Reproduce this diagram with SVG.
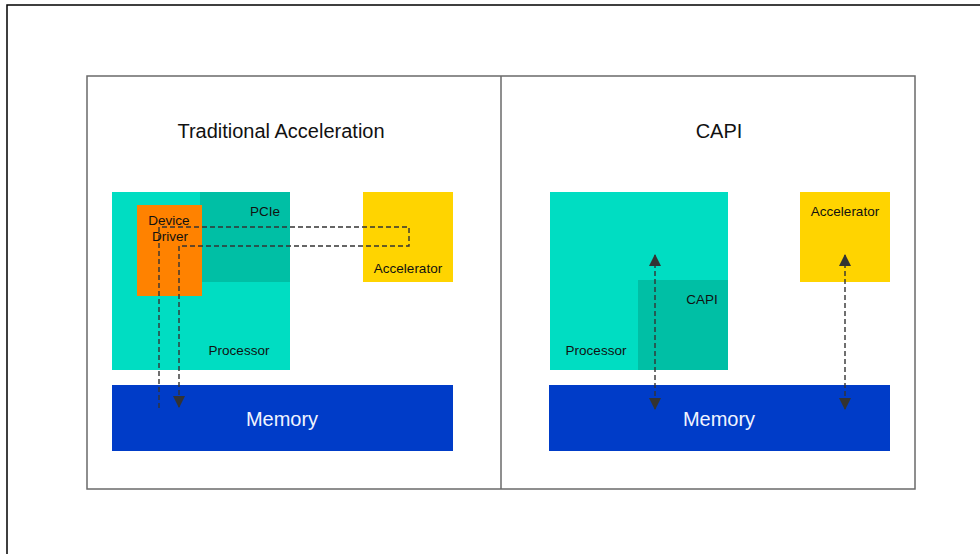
<svg xmlns="http://www.w3.org/2000/svg" width="980" height="554" viewBox="0 0 980 554">
<style>
text{font-family:"Liberation Sans",Arial,sans-serif;fill:#111}
.t{font-size:20px;text-anchor:middle}
.s{font-size:13.5px;text-anchor:middle}
.m{font-size:20px;text-anchor:middle;fill:#F0F4FF}
.proc{fill:#00DDC2}
.dark{fill:#00BFA5}
.acc{fill:#FFD400}
.mem{fill:#003CC8}
.dash{fill:none;stroke:#333;stroke-width:1.4;stroke-dasharray:5 3}
</style>
<defs>
<marker id="ah" viewBox="0 0 12 12" refX="11" refY="6" markerWidth="12" markerHeight="12" markerUnits="userSpaceOnUse" orient="auto-start-reverse">
<path d="M0,0 L12,6 L0,12 z" fill="#333"/>
</marker>
</defs>
<rect x="7" y="5" width="1000" height="600" fill="none" stroke="#000" stroke-width="1.5"/>
<g id="panels">
<rect x="87" y="76" width="828" height="413" fill="none" stroke="#6a6a6a" stroke-width="1.5"/>
<line x1="501" y1="76" x2="501" y2="489" stroke="#6a6a6a" stroke-width="1.5"/>
</g>
<text class="t" x="281" y="138">Traditional Acceleration</text>
<text class="t" x="719" y="138">CAPI</text>
<g id="left-processor">
<rect class="proc" x="112" y="192" width="178" height="178"/>
<text class="s" x="239" y="354.5">Processor</text>
</g>
<g id="pcie">
<rect class="dark" x="200" y="192" width="90" height="90"/>
<text class="s" x="265" y="215.5">PCIe</text>
</g>
<g id="device-driver">
<rect x="137" y="205" width="65" height="91" fill="#FF8200"/>
</g>
<g id="left-accelerator">
<rect class="acc" x="363" y="192" width="90" height="90"/>
<text class="s" x="408" y="273">Accelerator</text>
</g>
<g id="left-memory">
<rect class="mem" x="112" y="385" width="341" height="66"/>
<text class="m" x="282" y="426">Memory</text>
</g>
<g id="right-processor">
<rect class="proc" x="550" y="192" width="178" height="178"/>
<text class="s" x="596" y="354.5">Processor</text>
</g>
<g id="capi">
<rect class="dark" x="638" y="280" width="90" height="90"/>
<text class="s" x="702" y="304">CAPI</text>
</g>
<g id="right-accelerator">
<rect class="acc" x="800" y="192" width="90" height="90"/>
<text class="s" x="845" y="216">Accelerator</text>
</g>
<g id="right-memory">
<rect class="mem" x="549" y="385" width="341" height="66"/>
<text class="m" x="719" y="426">Memory</text>
</g>
<g id="connectors">
<path class="dash" d="M159,408 V227 H409 V246 H179 V407" marker-end="url(#ah)"/>
<line class="dash" x1="655" y1="255" x2="655" y2="409" marker-start="url(#ah)" marker-end="url(#ah)"/>
<line class="dash" x1="845" y1="255" x2="845" y2="409" marker-start="url(#ah)" marker-end="url(#ah)"/>
</g>
<g id="device-driver-label">
<text class="s" x="169" y="224.5">Device</text>
<text class="s" x="170" y="240.5">Driver</text>
</g>
</svg>
